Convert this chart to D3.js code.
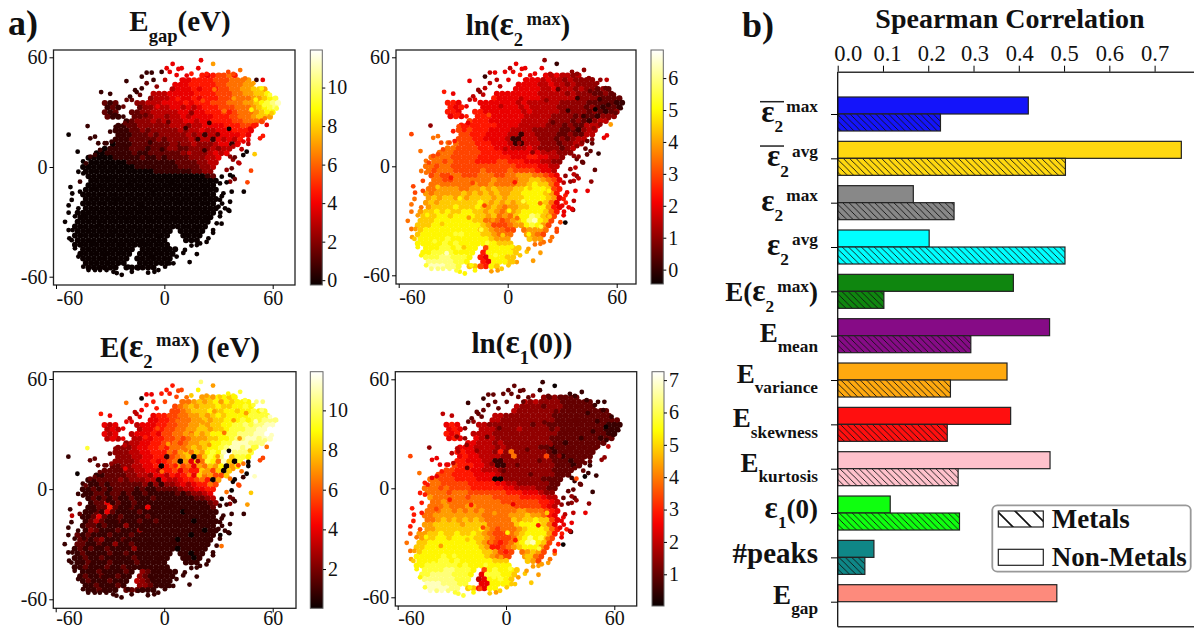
<!DOCTYPE html>
<html>
<head>
<meta charset="utf-8">
<title>Embedding maps and Spearman correlation</title>
<script src="https://cdn.jsdelivr.net/npm/d3@7"></script>
<style>
  body { margin: 0; background: #fff; }
  svg { display: block; font-family: "Liberation Serif", serif; }
  text { fill: #111; }
</style>
</head>
<body>
<script>
// ---- b) Spearman correlation
const barNames = ["e2barmax", "e2baravg", "e2max", "e2avg", "Ee2max", "Emean", "Evariance", "Eskewness", "Ekurtosis", "e1zero", "peaks", "Egap"];
const nonMetals = [0.421, 0.759, 0.167, 0.202, 0.388, 0.468, 0.374, 0.382, 0.469, 0.116, 0.080, 0.484];
const metals = [0.227, 0.503, 0.257, 0.502, 0.102, 0.294, 0.249, 0.242, 0.266, 0.269, 0.060, null];
const barColors = ["#1414fa", "#ffd810", "#888888", "#00ffff", "#0f860f", "#860b86", "#ffa90f", "#ff0f0f", "#ffc2cc", "#0fff0f", "#0f8787", "#fd8a7c"];
const barTicks = [0, 0.1, 0.2, 0.3, 0.4, 0.5, 0.6, 0.7];

// label pieces: [text, kind]
const barLabels = [
  [["ε", "eps"], ["2", "sub"], ["max", "sup"]],
  [["ε", "eps"], ["2", "sub"], ["avg", "sup"]],
  [["ε", "eps"], ["2", "sub"], ["max", "sup"]],
  [["ε", "eps"], ["2", "sub"], ["avg", "sup"]],
  [["E(", ""], ["ε", "eps"], ["2", "sub"], ["max", "sup"], [")", ""]],
  [["E", ""], ["mean", "sub"]],
  [["E", ""], ["variance", "sub"]],
  [["E", ""], ["skewness", "sub"]],
  [["E", ""], ["kurtosis", "sub"]],
  [["ε", "eps"], ["1", "sub"], ["(0)", ""]],
  [["#peaks", ""]],
  [["E", ""], ["gap", "sub"]]
];
const barLabelDy = [8, 8, 8, 8, 10, 6, 3, 3, 3, 5, 6, 2];
const overlined = ["e2barmax", "e2baravg"];

// ---- a) the embedding cloud. Row y, first column of the row, then one
// colorbar level per dot (0 = bottom of the bar, f = top, "." = no dot)
const gridRowY = [50, 47.5, 45, 42.5, 40, 37.5, 35, 32.5, 30, 27.5, 25, 22.5, 20, 17.5, 15, 12.5, 10, 7.5, 5, 2.5, 0, -2.5, -5, -7.5, -10, -12.5, -15, -17.5, -20, -22.5, -25, -27.5, -30, -32.5, -35, -37.5, -40, -42.5, -45, -47.5, -50, -52.5, -55];
const gridStart = [25, 21, 20, 19, 16, 15, 7, 7, 7, 7, 11, 9, 9, 9, 9, 8, 7, 5, 4, 4, 3, 3, 4, 4, 4, 3, 3, 3, 3, 3, 2, 2, 2, 1, 2, 1, 2, 1, 3, 2, 3, 3, 4];

const gapLevels = [
  "6567786", "5566667778889", "555666667788899", "455565666778899aa9", "4445555566667778899aab",
  "344455556566677788899abc", "212...3344455556566677788899abcde", "121...2334445545456667778889abcd",
  "212..223344444554556667678889abb", "211..22334434454555566677889aa9", "12333434444554556666778887",
  "11223333334443445555666776", "11122323333343445445556665", "1112223233333434144555565",
  "111222223233334344154546", "011122222223233433345515", "011112221222332233334344",
  "0011111211222222323334545", "0000011111211212222333445", "000000011111111122223344",
  "0000000000111111112222334", "000000000000011111112233", "000000000000000000000012",
  "000000000000000000000000", "000000000000000000000000", "0000000000000000000000000",
  "0000000000000000000000000", "0000000000000000000000000", "0000000000000000000000000",
  "0000000000000000000000000", "00000000000000000000000000", "0000000000000000000000000",
  "0000000000000000000000000", "0000000000000000000000000", "000000000000000000.00000",
  "000000000000000000..0000", "00000000000000000...000", "000000000000000000", "0000000000.0000000",
  "0000000000.0000000", "000000000.0000000", "00000000..000000", "000000.000000"
];
const e2Levels = [
  "5454434", "5554544343333", "555544544343333", "555554454443433232", "5555555544444343332232",
  "655555555444444433332222", "665...555555545444444333332222211", "656...55555554544444333332321221",
  "665..665555555454444433333232123", "565..66655555544444333323221333", "76665555554444433332321344",
  "66666665555444443332322444", "76766655554444333332221344", "7766655554414433332232244",
  "777665555411444333232344", "877766655541144433323344", "887777666555444543333234",
  "8887777766665555555444333", "8888777776666665556655443", "887877776666776665554433",
  "8878877777777777766665544", "878887777787777877776554", "787788777888778899988765",
  "887788888889888899aa9875", "888888889889888899abaa86", "8899998899a9a999aabbbba76",
  "9899999a9a9a9a99aabbbba96", "9a9aa9a9aaaa9a9aaabbbba95", "9a9aaaaaaaba9a9a9aabbba85",
  "9aaaabaaaba9a9899aabbb965", "9aababaabbaa9a9899abbbba86", "aaabbabbbbaa9a898abbdca97",
  "aaabbbbbbbaa888789abdeba7", "aaabbbbbbbbba9777899bcb97", "abbbbbbbbbbaa98877.89998",
  "abbbbbbbcbbbaa9888..9987", "bbbbbcbbbbbbba999...a99", "bbbbbcbcbbbbbbbaaa", "bbbccbcbbb.7bbbbaa",
  "bbccccbbbb.6bbbbba", "cccddcccb.65bbbaa", "dddddccb..65bbba", "eeeddc.aa76ba"
];
const peakEnergyLevels = [
  "9a9bbab", "889a9ab9babbb", "789a9aaabaabbcb", "7789aaabaabbabbcbc", "566778899a9ababbbbcccc",
  "5566778899a9aabbbcbccddd", "545...455566778899a9aabbccdcddeef", "454...45566778899aa9aabcccddeeff",
  "545..455565778898a9abbbccdddeeff", "454..44556677878999aabbcddeedee", "34455667787899aabbcceeeddd",
  "33345566768889a9abbcdeedec", "3334455666879a8a9bcbefdddc", "3334455661789a08acbdfaccb",
  "333345565678095a8cb8ea0c", "223344556067978598a9b09b", "222233445546675766a97a0a",
  "1122223344355465665a8977a", "1122223233344154456678609", "112122222231313345456687",
  "1121212222121122223445566", "112212212112111112123345", "121212112111211111112234",
  "122512112111111111111123", "112262112115111111111112", "1121521111211111110111111",
  "1125211211112111111111111", "1242112111211211111101111", "1221211131111111111111111",
  "1321112111311111111111011", "21211121112111111111101111", "2212311121111111110111111",
  "2211211311211111111111111", "1212112111131111111011111", "121111211211111111.11011",
  "112112111112111111..1101", "11211121111211111...111", "112111211211111111", "1112111121.3211111",
  "1211211211.3211111", "121112111.4321111", "11211121..332111", "112111.222111"
];
const e1Levels = [
  "3232222", "4343333222222", "433332333222222", "433333333222222222", "4433333333322222222222",
  "443333333333222222222222", "565...443333333323322222222222111", "565...44433334333332322222222111",
  "656..444433333333333322222222211", "565..54443333333333222222222122", "55444343333333332212222222",
  "55544443433333322122222222", "66554443638333333212222222", "5655444433833333722122222",
  "665554411333333333222122", "766655441133333333322212", "776665544433333333332222",
  "7776666555543333333333222", "8877766665550033333332222", "887777766666554433333322",
  "8887877776666665544443322", "888878887777777666555433", "988888878888777776666544",
  "889888888888877777776654", "888988899888888877777654", "8889989898988888899888765",
  "8899999999988888999a99865", "889a9a9a9a988888a9aabaa75", "99aaaaa9aaaa88888abbbba85",
  "99aaaaaaaab9878889abbba86", "99aabaabaaba9877789abbbb96", "9aabbabbbbaa987778abdbca7",
  "aabbbbbbbbba977678abdeba7", "aabbbbbbbbbba966789abbb97", "abbbbbbbbbbbaa9767.89a97",
  "bbbbbcbbbbbbba9877..9a87", "bbbbccbcbbbbbbaaa...a97", "bbccccccbcbbbbbbbb", "ccccddcccb.7bcbbba",
  "ccddddcccb.5cccbba", "ddddddccc.45bbcba", "eeedddcc..55bbbb", "eeeedd.aa65bb"
];

// loose points around the cloud: x, y, then level in gap / e2 / peak energy / e1
const strayPoints = [
  [4.6, 56.4, "5562"], [20.3, 58.4, "53d1"], [27, 56.4, "9190"], [-21, 47, "1581"], [-53, 17.7, "0717"],
  [-42.5, 22.4, "13c3"], [-48, 8.4, "0808"], [50, 7, "a1e1"], [48, -2, "72a1"], [46, -8.4, "7393"],
  [44, -13.5, "0515"], [56.7, 23, "5984"], [53, 15.7, "6573"], [54.6, 17, "6573"], [46.5, 14.8, "5302"],
  [41, 2.4, "4272"], [38, 4, "3201"], [43.7, 6.5, "0210"], [38, -5.3, "0322"], [36.4, -8, "3433"],
  [31.8, -16, "0615"], [32, -20, "0615"], [33.6, -22.6, "0516"], [31, -25, "0506"], [36, -24, "0301"],
  [31.7, -31, "0080"], [14, -52, "091a"], [18, -47.6, "0919"], [10.5, -47, "0a1a"], [5, -52.7, "091a"],
  [-5.5, -57.3, "0919"], [-9, -57.8, "091a"], [-23.6, -59, "0b1c"], [-26.4, -58, "0b1c"], [-35.6, -56.4, "0d1e"],
  [-42, -56.4, "0d1e"], [-55, -30, "0818"], [-53, -34.5, "0818"], [-52.6, -39, "0919"], [-53, -21, "0816"],
  [-53, -25, "0817"], [-52, -11, "0716"], [-51, -14.5, "0746"], [-47.6, -2.6, "0816"], [-45, 3, "0816"],
  [-41, 15.7, "1825"], [-38.4, 16.6, "1825"], [-33, 13, "1825"], [-27, 22, "1734"], [-18, 36.7, "2553"],
  [-15.3, 41, "1342"], [-12.5, 49.4, "1101"], [-9.8, 51.6, "1452"], [-7, 51.6, "1552"], [-1.5, 52, "1562"],
  [-6, 47.6, "1462"], [-9.8, 45.8, "2462"], [1.3, 54, "5462"], [7.8, 53.6, "5572"], [9.6, 54, "5572"],
  [3, 52, "5562"], [18.8, 54, "55b1"], [15, 51, "65a3"], [12.4, 50, "5582"], [42, 53, "83c1"],
  [35.4, 52, "73b1"], [51, 47.6, "13d1"], [54.5, 47.6, "54d1"], [-22.7, 33, "2553"], [-19, 38.5, "1442"],
  [18, -42.7, "0819"], [23.4, -41, "0819"], [27, -36, "0718"], [-35, 41, "1664"], [-30, 40, "1554"],
  [38.2, 11.1, "4392"], [41, 13, "5372"], [43.8, 13.9, "5282"], [46.5, 12.6, "4201"], [42.8, 9.7, "4282"],
  [45.6, 8.4, "0201"], [36.4, 5.7, "3381"], [39, 5.3, "2307"], [41.5, 2, "4272"], [37.3, -0.7, "2402"],
  [34.5, -1.6, "3382"], [31.8, -5.3, "0302"], [36.4, -4.4, "0423"], [39, -6.6, "2413"], [30.8, -9, "0413"],
  [34.5, -8.4, "0312"], [37.3, -13.5, "0514"], [32.7, -14.4, "0514"], [30.8, -18, "0615"], [36.4, -19, "0415"],
  [30, -21.7, "0515"], [35.4, -23.5, "0514"], [30.8, -27, "0515"], [29, -30.8, "0716"], [27, -34.5, "0716"],
  [24.4, -39, "0818"], [19.8, -41.8, "0819"], [15, -43, "0819"], [11.4, -45.4, "0919"], [6.8, -49, "0a19"],
  [3, -52.7, "0a1a"], [0.4, -54.5, "0a1a"], [-3.3, -56.4, "0a1a"], [-14.4, -55.4, "0717"], [-18, -57.3, "0b1b"],
  [-20, -54.5, "0b1b"], [-28.2, -57.3, "0c1c"], [-32, -56.4, "0d1d"], [-38.4, -56.4, "0d1d"], [-44.9, -54.5, "0c1c"],
  [-47.6, -49, "0b1b"], [-49.5, -44.5, "0b1b"], [-51.3, -40, "0a1a"], [-50.8, -34.5, "0919"], [-49.5, -27, "0918"],
  [-47.6, -22.6, "0817"], [-51.3, -18, "0816"], [-46.7, -13.5, "0726"], [-46.7, -8, "1736"], [-44.9, -3.5, "0816"],
  [-43.4, 2, "1726"], [-41, 5.7, "1725"], [-38.4, 6.6, "1725"], [-35.6, 9.3, "1726"], [-36.6, 13, "1725"],
  [-32, 13, "1725"], [-29.2, 13.9, "1634"], [-26.4, 20.2, "1734"], [-30, 19.3, "1624"], [-21.8, 23.9, "2543"],
  [-22.7, 27.5, "1653"], [-27.3, 28.5, "1653"], [-20.9, 36.7, "2452"], [-16.2, 42, "1342"], [-13.5, 39.4, "2452"],
  [-12.5, 43, "1452"], [-4.2, 44, "3462"], [0.4, 47.6, "4572"], [6.8, 50.3, "5672"], [9.6, 47.6, "5582"],
  [23.4, 50.9, "6492"], [30.8, 50.3, "74a2"], [38.2, 50.9, "73b1"], [44.7, 48.5, "83c1"], [49.3, 45.8, "93c1"],
  [53.9, 43, "b2d1"], [58.5, 39.4, "c2e1"], [62.2, 32, "c1f1"], [59.4, 29.4, "a2e1"], [55.7, 26.6, "83d1"],
  [51, 23, "63c2"], [47.4, 21, "53a2"],
  // inside the cloud, the off-colour dots that stand out
  [-10.4, 28.3, "2762"], [-3.7, 33.1, "5472"], [2.2, 24.6, "2593"], [7.4, 37.2, "6483"], [11.8, 21.3, "1482"],
  [15.1, 29.4, "3493"], [18.6, 15.2, "1342"], [21.3, 36.3, "7392"], [24.9, 24.1, "1293"], [27.7, 42.4, "8292"],
  [29.6, 17.8, "2293"], [33.2, 30.7, "8182"], [35.8, 20.9, "0302"], [38.4, 37.5, "9192"], [41.7, 27.6, "8191"],
  [45.3, 41.4, "9291"], [48.2, 31.3, "b0d1"], [50.6, 36.9, "b1e1"], [55.4, 33.8, "c1e0"], [-16.2, 20.7, "2643"],
  [-7.9, 13.4, "1553"], [-1.3, 9.6, "1482"], [6.3, 12.8, "3362"], [13.7, 7.7, "4382"], [22.2, 9.1, "1393"],
  [-21.5, 11.2, "1752"], [-38.6, -11.4, "0a17"], [-31.2, -6.3, "0616"], [-26.4, -17.7, "0b19"], [-19.3, -9.2, "0716"],
  [-12.8, -21.6, "0717"], [-6.4, -13.7, "0a19"], [0.8, -24.4, "0b1b"], [3.9, -8.8, "0615"], [8.6, -19.3, "0c1b"],
  [12.2, -12.1, "0a18"], [17.9, -20.4, "0816"], [22.7, -13.6, "0b1a"], [-44.3, -26.8, "0b1b"], [-36.1, -31.7, "0a19"],
  [-28.7, -37.2, "0c1c"], [-21.4, -28.3, "091a"], [-14.6, -34.9, "0c1b"], [-8.2, -29.6, "0918"], [-2.7, -37.9, "0a19"],
  [-40.2, -41.3, "0c1c"], [-33.6, -47.8, "0e1d"], [-24.1, -44.6, "0a1c"], [-11.3, -42.2, "0c1c"], [-6.7, -48.9, "0c1c"],
  [2.3, -44.2, "0b1c"], [11.6, -37.4, "0b1a"], [18.3, -33.2, "0c1c"], [23.1, -27.7, "0a18"], [5.2, -28.6, "0816"]
];

// one panel each, colorbar limits and ticks
const panelTitles = [
  [["E", ""], ["gap", "sub"], ["(eV)", ""]],
  [["ln(", ""], ["ε", "eps"], ["2", "sub"], ["max", "sup"], [")", ""]],
  [["E(", ""], ["ε", "eps"], ["2", "sub"], ["max", "sup"], [") (eV)", ""]],
  [["ln(", ""], ["ε", "eps"], ["1", "sub"], ["(0))", ""]]
];
const panelLevels = [gapLevels, e2Levels, peakEnergyLevels, e1Levels];
const colorLimits = [[-0.25, 11.95], [-0.45, 6.88], [0.02, 11.95], [0.02, 7.26]];
const colorTicks = [[0, 2, 4, 6, 8, 10], [0, 1, 2, 3, 4, 5, 6], [2, 4, 6, 8, 10], [1, 2, 3, 4, 5, 6, 7]];
const axisTicks = [-60, 0, 60];

// layout
const W = 1194, H = 629;
const layout = [
  { box: [53.5, 50, 295, 285], px: [56, 272.7], py: [276.7, 57.3], bar: [310.3, 322.3], titleX: 180, titleY: 30.7, pad: 2 },
  { box: [396, 50, 636, 284], px: [398.7, 616.7], py: [275.3, 57.3], bar: [651, 663.3], titleX: 518, titleY: 35, pad: 2 },
  { box: [53.3, 371.7, 296, 608.3], px: [55.7, 272.7], py: [599.3, 379], bar: [310.3, 323], titleX: 180, titleY: 356.7, pad: -1.5 },
  { box: [395.3, 371.7, 636.7, 606], px: [397.7, 614.3], py: [597.3, 379.3], bar: [652, 664], titleX: 522, titleY: 352.7, pad: 1 }
];

const svg = d3.select("body").append("svg").attr("width", W).attr("height", H);
const defs = svg.append("defs");

// matplotlib "hot"
const hot = d3.scaleLinear()
  .domain([0, 0.365, 0.746, 1])
  .range(["#0b0000", "#ff0000", "#ffff00", "#ffffff"])
  .clamp(true);

defs.append("linearGradient").attr("id", "hotbar")
  .attr("x1", 0).attr("y1", 1).attr("x2", 0).attr("y2", 0)
  .selectAll("stop").data(d3.range(0, 1.001, 0.05)).enter().append("stop")
  .attr("offset", d => d)
  .attr("stop-color", d => hot(d));

function hatch(id, size, width) {
  defs.append("pattern").attr("id", id)
    .attr("patternUnits", "userSpaceOnUse")
    .attr("width", size).attr("height", size)
    .selectAll("path").data([`M0,0L${size},${size}M${-size},0L${size},${2 * size}M0,${-size}L${2 * size},${size}`])
    .enter().append("path")
    .attr("d", d => d)
    .attr("stroke", "#111")
    .attr("stroke-width", width);
}
hatch("hatchBar", 6.4, 0.9);
hatch("hatchLegend", 18, 1.7);

// text with sub and superscripts as tspans
function richText(sel, parts, size) {
  let offset = 0;
  parts.forEach(function (p, i) {
    const kind = p[1];
    const target = kind === "sub" ? 0.38 * size : kind === "sup" ? -0.36 * size : 0;
    const fs = kind === "sub" || kind === "sup" ? size * 0.64 : kind === "eps" ? size * 1.15 : size;
    const t = sel.append("tspan").text(p[0])
      .attr("font-size", fs)
      .attr("dy", target - offset);
    if (kind === "sup" && i > 0 && parts[i - 1][1] === "sub") t.attr("dx", size * 0.12);
    offset = target;
  });
}

// ---- a) panels
layout.forEach(function (l, n) {
  const g = svg.append("g");
  const x = d3.scaleLinear().domain([-60, 60]).range(l.px);
  const y = d3.scaleLinear().domain([-60, 60]).range(l.py);
  const lim = colorLimits[n];
  const cy = d3.scaleLinear().domain(lim).range([l.box[3], l.box[1]]);
  const color = v => hot((v - lim[0]) / (lim[1] - lim[0]));
  const levelValue = c => lim[0] + parseInt(c, 16) / 15 * (lim[1] - lim[0]);

  const cells = [];
  panelLevels[n].forEach(function (row, r) {
    row.split("").forEach(function (c, k) {
      if (c === ".") return;
      cells.push({ x: -54 + 3 * (gridStart[r] + k) + (r % 2 ? 1.5 : 0), y: gridRowY[r], v: levelValue(c) });
    });
  });

  g.append("g").selectAll("circle").data(cells).enter().append("circle")
    .attr("cx", d => x(d.x)).attr("cy", d => y(d.y)).attr("r", 3)
    .attr("fill", d => color(d.v));
  g.append("g").selectAll("circle").data(strayPoints).enter().append("circle")
    .attr("cx", d => x(d[0])).attr("cy", d => y(d[1])).attr("r", 2.4)
    .attr("fill", d => color(levelValue(d[2][n])));

  g.append("rect")
    .attr("x", l.box[0]).attr("y", l.box[1])
    .attr("width", l.box[2] - l.box[0]).attr("height", l.box[3] - l.box[1])
    .attr("fill", "none").attr("stroke", "#222").attr("stroke-width", 1.3);

  const xAxis = g.append("g").attr("transform", `translate(0,${l.box[3]})`)
    .call(d3.axisBottom(x).tickValues(axisTicks).tickFormat(d3.format("d")).tickSize(4).tickPadding(l.pad));
  const yAxis = g.append("g").attr("transform", `translate(${l.box[0]},0)`)
    .call(d3.axisLeft(y).tickValues(axisTicks).tickFormat(d3.format("d")).tickSize(4).tickPadding(2));
  [xAxis, yAxis].forEach(function (a) {
    a.select(".domain").remove();
    a.selectAll("text").attr("font-size", 20).attr("font-family", "Liberation Serif").text(d => d);
  });
  // the reference starts the -60 label at its tick
  xAxis.selectAll("text").filter(d => d === -60).attr("text-anchor", "start");

  // colorbar
  g.append("rect")
    .attr("x", l.bar[0]).attr("y", l.box[1])
    .attr("width", l.bar[1] - l.bar[0]).attr("height", l.box[3] - l.box[1])
    .attr("fill", "url(#hotbar)").attr("stroke", "#666").attr("stroke-width", 1);
  const cAxis = g.append("g").attr("transform", `translate(${l.bar[1]},0)`)
    .call(d3.axisRight(cy).tickValues(colorTicks[n]).tickFormat(d3.format("d")).tickSize(3).tickPadding(2));
  cAxis.select(".domain").remove();
  cAxis.selectAll("text").attr("font-size", 20).attr("font-family", "Liberation Serif");

  g.append("text")
    .attr("x", l.titleX).attr("y", l.titleY)
    .attr("text-anchor", "middle").attr("font-weight", "bold")
    .call(richText, panelTitles[n], 29);
});

svg.append("text").attr("x", 8).attr("y", 35).attr("font-size", 36).attr("font-weight", "bold").text("a)");
svg.append("text").attr("x", 742).attr("y", 36.7).attr("font-size", 36).attr("font-weight", "bold").text("b)");

// ---- b) bars
const barX = d3.scaleLinear().domain([0, 0.787]).range([837.7, 1194]);
const barY = d3.scalePoint().domain(barNames).range([114, 601.7]);
const barH = 17;

const bars = svg.append("g");
bars.selectAll(".nonmetal").data(barNames).enter().append("rect")
  .attr("class", "nonmetal")
  .attr("x", barX(0)).attr("y", d => barY(d) - barH)
  .attr("width", (d, i) => barX(nonMetals[i]) - barX(0)).attr("height", barH)
  .attr("fill", (d, i) => barColors[i]).attr("stroke", "#222").attr("stroke-width", 1.2);

const metalNames = barNames.filter((d, i) => metals[i] !== null);
bars.selectAll(".metal").data(metalNames).enter().append("rect")
  .attr("class", "metal")
  .attr("x", barX(0)).attr("y", d => barY(d))
  .attr("width", (d, i) => barX(metals[i]) - barX(0)).attr("height", barH)
  .attr("fill", (d, i) => barColors[i]);
bars.selectAll(".metalHatch").data(metalNames).enter().append("rect")
  .attr("class", "metalHatch")
  .attr("x", barX(0)).attr("y", d => barY(d))
  .attr("width", (d, i) => barX(metals[i]) - barX(0)).attr("height", barH)
  .attr("fill", "url(#hatchBar)").attr("stroke", "#222").attr("stroke-width", 1.2);

// axes and spines (no right spine)
const topAxis = svg.append("g").attr("transform", "translate(0,71.7)")
  .call(d3.axisTop(barX).tickValues(barTicks).tickFormat(d3.format(".1f")).tickSize(6).tickPadding(4.5).tickSizeOuter(0));
topAxis.selectAll("text").attr("font-size", 22.5).attr("font-family", "Liberation Serif")
  .attr("dx", (d, i) => [10, 4, 3, 1, 0.5, 0, 0, 0][i]);
topAxis.select(".domain").attr("stroke", "#333").attr("stroke-width", 1.4);

const leftAxis = svg.append("g").attr("transform", `translate(${barX(0)},0)`)
  .call(d3.axisLeft(barY).tickSize(6.7).tickFormat("").tickSizeOuter(0));
leftAxis.select(".domain").attr("d", "M0,71.7V626.7").attr("stroke", "#111").attr("stroke-width", 1.3);

svg.append("line")
  .attr("x1", barX(0)).attr("x2", W).attr("y1", 626.7).attr("y2", 626.7)
  .attr("stroke", "#333").attr("stroke-width", 1.6);

svg.append("text").attr("x", 1010).attr("y", 28).attr("text-anchor", "middle")
  .attr("font-size", 28).attr("font-weight", "bold").text("Spearman Correlation");

barNames.forEach(function (name, i) {
  svg.append("text")
    .attr("x", 818).attr("y", barY(name) + barLabelDy[i])
    .attr("text-anchor", "end").attr("font-weight", "bold")
    .call(richText, barLabels[i], name === "peaks" ? 29 : 27);
});
overlined.forEach(function (name) {
  svg.append("line")
    .attr("x1", 760).attr("x2", 784)
    .attr("y1", barY(name) - 12.3).attr("y2", barY(name) - 12.3)
    .attr("stroke", "#222").attr("stroke-width", 1.5);
});

// ---- legend
const legendNames = ["Metals", "Non-Metals"];
const legend = svg.append("g");
legend.append("rect")
  .attr("x", 992.3).attr("y", 505.3).attr("width", 198.4).attr("height", 66.4).attr("rx", 5)
  .attr("fill", "#fff").attr("stroke", "#999").attr("stroke-width", 1.8);
legendNames.forEach(function (name, i) {
  const top = [511, 549.3][i];
  legend.append("rect")
    .attr("x", 998.3).attr("y", top).attr("width", 45).attr("height", 16)
    .attr("fill", i === 0 ? "url(#hatchLegend)" : "#fff")
    .attr("stroke", "#222").attr("stroke-width", 1.2);
  legend.append("text")
    .attr("x", 1051.7).attr("y", top + 17)
    .attr("font-size", 27).attr("font-weight", "bold").text(name);
});
</script>
</body>
</html>
